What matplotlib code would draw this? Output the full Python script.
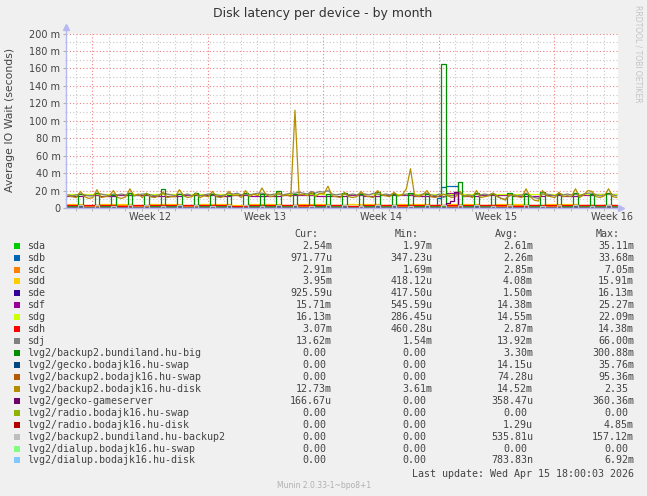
import numpy as np
import matplotlib.pyplot as plt
from matplotlib.patches import Rectangle

W, H = 647, 496

# ---- data (values in milliseconds) ----
# quarter-day samples (6 h), 134 samples from the left edge of the graph
big_backup = [
    0, 0, 0, 16, 0, 0, 0, 17, 0, 0, 0, 15, 0, 0, 0, 17, 0, 0, 0, 16, 0, 0, 0, 22, 0, 0, 0, 16, 0, 0, 0, 17,
    0, 0, 0, 16, 0, 0, 0, 15, 0, 0, 0, 17, 0, 0, 0, 16, 0, 0, 0, 20, 0, 0, 0, 16, 0, 0, 0, 17, 0, 0, 0, 16,
    0, 0, 0, 17, 0, 0, 0, 16, 0, 0, 0, 18, 0, 0, 0, 16, 0, 0, 0, 17, 0, 0, 0, 16, 0, 0, 0, 165, 0, 0, 0, 30,
    0, 0, 0, 17, 0, 0, 0, 16, 0, 0, 0, 17, 0, 0, 0, 16, 0, 0, 0, 18, 0, 0, 0, 16, 0, 0, 0, 17, 0, 0, 0, 16,
    0, 0, 0, 17, 0, 0]
backup2_disk = [
    14, 13, 12, 19, 13, 11, 12, 21, 12, 13, 14, 20, 12, 11, 13, 22, 14, 16, 12, 17, 13, 12, 14, 18, 12, 13, 13, 21, 14, 12, 13, 17,
    12, 14, 13, 19, 13, 12, 14, 19, 14, 15, 12, 20, 13, 16, 14, 23, 15, 13, 14, 18, 14, 15, 13, 112, 15, 16, 14, 18, 13, 17, 16, 25,
    14, 13, 12, 18, 13, 12, 13, 19, 14, 13, 12, 20, 15, 14, 13, 18, 14, 15, 22, 45, 14, 13, 15, 20, 13, 12, 14, 16, 14, 12, 13, 19,
    13, 14, 12, 20, 12, 13, 14, 17, 13, 11, 9, 16, 14, 13, 12, 22, 13, 9, 8, 20, 14, 13, 12, 18, 13, 14, 13, 22, 12, 15, 20, 19,
    13, 12, 14, 22, 13, 12]
sdj = [
    15, 14, 15, 16, 15, 14, 14, 17, 16, 15, 14, 16, 15, 16, 15, 17, 14, 15, 16, 16, 15, 14, 15, 17, 16, 15, 14, 16, 15, 16, 14, 17,
    14, 15, 16, 16, 15, 14, 15, 17, 16, 17, 15, 16, 15, 16, 17, 17, 16, 15, 16, 16, 15, 16, 17, 17, 18, 17, 16, 19, 17, 19, 18, 20,
    16, 15, 16, 16, 15, 16, 15, 17, 16, 15, 17, 16, 15, 16, 15, 17, 14, 15, 16, 16, 15, 14, 16, 17, 15, 14, 16, 12, 15, 14, 15, 17,
    14, 15, 14, 16, 15, 16, 15, 17, 14, 11, 10, 14, 15, 14, 15, 17, 14, 12, 11, 16, 16, 15, 14, 17, 15, 16, 15, 16, 14, 16, 17, 17,
    15, 14, 15, 16, 15, 14]
sdb = [
    1.5, 1.4, 1.6, 2.0, 1.5, 1.4, 1.5, 2.1, 1.6, 1.5, 1.4, 2.0, 1.5, 1.6, 1.5, 2.2, 1.4, 1.5, 1.6, 2.0, 1.5, 1.4, 1.5, 2.1, 1.6, 1.5, 1.4, 2.0, 1.5, 1.6, 1.4, 2.1,
    1.4, 1.5, 1.6, 2.0, 1.5, 1.4, 1.5, 2.1, 1.6, 1.5, 1.5, 2.0, 1.5, 1.6, 1.5, 2.2, 1.6, 1.5, 1.6, 2.0, 1.5, 1.6, 1.5, 2.1, 1.5, 1.6, 1.5, 2.0, 1.5, 1.6, 1.5, 2.1,
    1.6, 1.5, 1.6, 2.0, 1.5, 1.6, 1.5, 2.1, 1.6, 1.5, 1.6, 2.0, 1.5, 1.6, 1.5, 2.1, 1.4, 1.5, 1.6, 2.0, 1.5, 1.4, 1.6, 2.1, 1.5, 1.4, 12.0, 24.0, 25.0, 25.0, 25.0, 3.0,
    1.4, 1.5, 1.4, 2.0, 1.5, 1.6, 1.5, 2.1, 1.4, 1.5, 1.4, 2.0, 1.5, 1.4, 1.5, 2.1, 1.4, 1.5, 1.4, 2.0, 1.6, 1.5, 1.5, 2.1, 1.5, 1.6, 1.5, 2.0, 1.4, 1.6, 1.7, 2.1,
    1.5, 1.4, 1.5, 2.0, 1.5, 1.4]
gameserver = [0.0] * 92 + [6.0, 8.0, 18.0, 1.0] + [0.0] * 38
bundiland_backup2 = [
    0, 0, 0, 3, 0, 0, 0, 3, 0, 0, 0, 2, 0, 0, 0, 3, 0, 0, 0, 3, 0, 0, 0, 2, 0, 0, 0, 3, 0, 0, 0, 3,
    0, 0, 0, 2, 0, 0, 0, 3, 0, 0, 0, 3, 0, 0, 0, 2, 0, 0, 0, 3, 0, 0, 0, 3, 0, 0, 0, 2, 0, 0, 0, 3,
    0, 0, 0, 3, 0, 0, 0, 2, 0, 0, 0, 3, 0, 0, 0, 3, 0, 0, 0, 2, 0, 0, 0, 3, 0, 0, 0, 4, 0, 0, 0, 3,
    0, 0, 0, 3, 0, 0, 0, 2, 0, 0, 0, 3, 0, 0, 0, 3, 0, 0, 0, 2, 0, 0, 0, 3, 0, 0, 0, 3, 0, 0, 0, 2,
    0, 0, 0, 3, 0, 0]
zero_q = [0.0] * 134

# whole-day samples, 34 days
sda = [2.6, 2.5, 2.7, 2.4, 2.6, 2.5, 2.6, 2.7, 2.5, 2.6, 2.4, 2.6, 2.5, 2.7, 2.6, 2.5, 2.6,
       2.4, 2.6, 2.5, 2.7, 2.6, 2.5, 2.6, 2.7, 2.5, 2.6, 2.4, 2.6, 2.5, 2.6, 2.7, 2.5, 2.5]
sdc = [2.9, 2.8, 2.9, 3.0, 2.8, 2.9, 2.9, 2.8, 3.0, 2.9, 2.8, 2.9, 2.9, 3.0, 2.8, 2.9, 2.9,
       2.8, 2.9, 3.0, 2.8, 2.9, 2.9, 2.8, 2.9, 3.0, 2.8, 2.9, 2.9, 2.8, 2.9, 3.0, 2.9, 2.9]
sdd = [4.1, 4.0, 4.2, 4.1, 4.0, 4.1, 4.2, 4.0, 4.1, 4.1, 4.0, 4.2, 4.1, 4.0, 4.1, 4.2, 4.0,
       4.1, 4.1, 4.0, 4.2, 4.1, 4.0, 4.1, 4.2, 4.0, 4.1, 4.1, 4.0, 4.2, 4.1, 4.0, 4.0, 4.0]
sde = [1.5, 1.4, 1.5, 1.6, 1.5, 1.4, 1.5, 1.5, 1.6, 1.5, 1.4, 1.5, 1.5, 1.6, 1.5, 1.4, 1.5,
       1.5, 1.6, 1.5, 1.4, 1.5, 1.5, 1.6, 1.5, 1.4, 1.5, 1.5, 1.6, 1.5, 1.4, 1.5, 1.0, 1.0]
sdf = [14.2, 14.4, 14.3, 14.5, 14.4, 14.3, 14.2, 14.4, 14.5, 14.3, 14.4, 14.2, 14.3, 14.5, 14.4, 14.3, 14.2,
       14.4, 14.3, 14.5, 14.4, 14.3, 14.2, 17.0, 14.3, 14.4, 14.5, 14.3, 14.2, 14.4, 14.3, 14.5, 15.7, 15.7]
sdg = [15.9, 16.0, 16.1, 15.8, 16.0, 15.9, 16.1, 16.0, 15.8, 16.0, 16.1, 15.9, 16.0, 15.8, 16.1, 16.0, 15.9,
       16.0, 16.1, 15.8, 16.0, 15.9, 16.1, 16.0, 15.8, 16.0, 16.1, 15.9, 16.0, 15.8, 16.1, 16.0, 16.1, 16.1]
sdh = [3.0, 2.9, 3.1, 2.8, 3.0, 2.9, 3.0, 3.1, 2.9, 3.0, 2.8, 3.0, 2.9, 3.1, 3.0, 2.9, 3.0,
       2.8, 3.0, 2.9, 3.1, 3.0, 2.9, 3.0, 3.1, 2.9, 3.0, 2.8, 3.0, 2.9, 3.0, 3.1, 3.1, 3.1]

names = ["sda", "sdb", "sdc", "sdd", "sde", "sdf", "sdg", "sdh", "sdj",
         "lvg2/backup2.bundiland.hu-big", "lvg2/gecko.bodajk16.hu-swap",
         "lvg2/backup2.bodajk16.hu-swap", "lvg2/backup2.bodajk16.hu-disk",
         "lvg2/gecko-gameserver", "lvg2/radio.bodajk16.hu-swap",
         "lvg2/radio.bodajk16.hu-disk", "lvg2/backup2.bundiland.hu-backup2",
         "lvg2/dialup.bodajk16.hu-swap", "lvg2/dialup.bodajk16.hu-disk"]
colors = ["#00CC00", "#0066B3", "#FF8000", "#FFCC00", "#330099", "#990099", "#CCFF00",
          "#FF0000", "#808080", "#008F00", "#00487D", "#B35A00", "#B38F00", "#6B006B",
          "#8FB300", "#B30000", "#BEBEBE", "#80FF80", "#80C9FF"]
series = [sda, sdb, sdc, sdd, sde, sdf, sdg, sdh, sdj,
          big_backup, zero_q, zero_q, backup2_disk,
          gameserver, zero_q, zero_q, bundiland_backup2,
          zero_q, zero_q]
# noisy series are drawn as plain lines, the rest as rrd-like steps
smooth = {"sdj", "lvg2/backup2.bodajk16.hu-disk"}

cur = ["2.54m", "971.77u", "2.91m", "3.95m", "925.59u", "15.71m", "16.13m", "3.07m", "13.62m",
       "0.00", "0.00", "0.00", "12.73m", "166.67u", "0.00", "0.00", "0.00", "0.00", "0.00"]
mins = ["1.97m", "347.23u", "1.69m", "418.12u", "417.50u", "545.59u", "286.45u", "460.28u", "1.54m",
        "0.00", "0.00", "0.00", "3.61m", "0.00", "0.00", "0.00", "0.00", "0.00", "0.00"]
avgs = ["2.61m", "2.26m", "2.85m", "4.08m", "1.50m", "14.38m", "14.55m", "2.87m", "13.92m",
        "3.30m", "14.15u", "74.28u", "14.52m", "358.47u", "0.00", "1.29u", "535.81u", "0.00", "783.83n"]
maxs = ["35.11m", "33.68m", "7.05m", "15.91m", "16.13m", "25.27m", "22.09m", "14.38m", "66.00m",
        "300.88m", "35.76m", "95.36m", "2.35", "360.36m", "0.00", "4.85m", "157.12m", "0.00", "6.92m"]

week_starts = [1.58, 8.58, 15.58, 22.58, 29.58]
week_labels = ["Week 12", "Week 13", "Week 14", "Week 15", "Week 16"]
y_ticks = [0, 20, 40, 60, 80, 100, 120, 140, 160, 180, 200]
y_labels = ["0", "20 m", "40 m", "60 m", "80 m", "100 m", "120 m", "140 m", "160 m", "180 m", "200 m"]

X_END = 33.45


def fx(px):
    return px / W


def fy(py):
    return 1 - py / H


fig = plt.figure(figsize=(W / 100, H / 100), dpi=100, facecolor="#F0F0F0")
ax = fig.add_axes([fx(66), fy(208), fx(618) - fx(66), fy(33.5) - fy(208)])
ax.set_facecolor("white")
ax.set_xlim(0, X_END)
ax.set_ylim(0, 200)

# grid
for d in np.arange(0.58, X_END, 1.0):
    major = any(abs(d - w) < 0.01 for w in week_starts)
    ax.axvline(d, color="#F08080" if major else "#C8C8C8", lw=0.8,
               ls=(0, (1, 2)), zorder=0)
for v in range(10, 201, 10):
    ax.axhline(v, color="#F08080" if v % 20 == 0 else "#C8C8C8", lw=0.8,
               ls=(0, (1, 2)), zorder=0)

# series
for name, vals, col in zip(names, series, colors):
    n = len(vals)
    step = 0.25 if n > 40 else 1.0
    if name in smooth:
        ax.plot(np.arange(n) * step + step / 2, vals, color=col, lw=0.9, zorder=2)
    else:
        edges = np.arange(n + 1) * step
        ax.stairs(vals, edges, baseline=None, color=col, lw=0.9, zorder=2)

# axes look
for s in ax.spines.values():
    s.set_visible(False)
axis_col = "#B8B8F0"
ax.plot([0, 0], [0, 1.04], color=axis_col, lw=1, transform=ax.transAxes, clip_on=False, zorder=3)
ax.plot([0, 1.005], [0, 0], color=axis_col, lw=1, transform=ax.transAxes, clip_on=False, zorder=3)
ax.plot([0], [1.04], marker="^", ms=4, color=axis_col, transform=ax.transAxes, clip_on=False)
ax.plot([1.005], [0], marker=">", ms=4, color=axis_col, transform=ax.transAxes, clip_on=False)

ax.set_yticks(y_ticks, y_labels)
ax.set_yticks(range(10, 200, 20), minor=True)
ax.set_xticks([w + 3.5 for w in week_starts], week_labels)
ax.set_xticks(np.arange(0.58, X_END, 1.0), minor=True)
ax.tick_params(axis="y", which="major", length=2, color="#B0B0B0", labelsize=7,
               labelcolor="#444444", pad=2)
ax.tick_params(axis="y", which="minor", length=1, color="#B0B0B0")
ax.tick_params(axis="x", which="major", length=0, labelsize=7, labelcolor="#444444", pad=3)
ax.tick_params(axis="x", which="minor", length=2, color="#B0B0B0")

fig.text(fx(323), fy(13), "Disk latency per device - by month", ha="center", va="center",
         fontsize=9, color="#333333")
fig.text(fx(10), fy(120), "Average IO Wait (seconds)", rotation=90, ha="center", va="center",
         fontsize=7.8, color="#444444")
fig.text(fx(638), fy(5), "RRDTOOL / TOBI OETIKER", rotation=270, ha="center", va="top",
         fontsize=5.5, color="#C4C4C4")

# legend
mono = "DejaVu Sans Mono"
fs = 7.2
char_w = 6.1
col_right = [332, 432.6, 533, 634]
headers = ["Cur:", "Min:", "Avg:", "Max:"]
for cx, hd in zip(col_right, headers):
    fig.text(fx(cx - 14), fy(234), hd, ha="right", va="center", family=mono, fontsize=fs,
             color="#444444")
for i, name in enumerate(names):
    yc = 245.7 + 11.93 * i
    fig.patches.append(Rectangle((fx(14), fy(yc + 3)), fx(6), fy(yc - 3) - fy(yc + 3),
                                 transform=fig.transFigure, facecolor=colors[i],
                                 edgecolor="none"))
    fig.text(fx(27), fy(yc), name, ha="left", va="center", family=mono, fontsize=fs,
             color="#444444")
    for cx, vals in zip(col_right, [cur, mins, avgs, maxs]):
        s = vals[i]
        x = cx - char_w if s[-1].isdigit() else cx
        fig.text(fx(x), fy(yc), s, ha="right", va="center", family=mono, fontsize=fs,
                 color="#444444")

fig.text(fx(634), fy(473.7), "Last update: Wed Apr 15 18:00:03 2026", ha="right", va="center",
         family=mono, fontsize=fs, color="#444444")
fig.text(fx(324), fy(486), "Munin 2.0.33-1~bpo8+1", ha="center", va="center",
         fontsize=5.5, color="#B0B0B0")

fig.savefig("out.png", dpi=100, facecolor=fig.get_facecolor())
